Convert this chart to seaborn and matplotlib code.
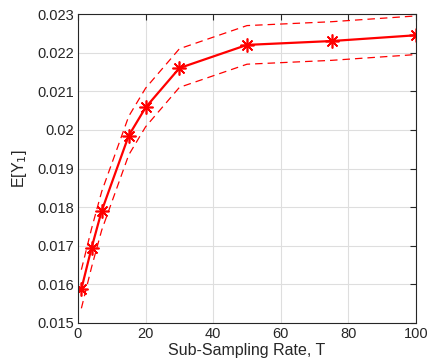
import matplotlib
matplotlib.use("Agg")
import matplotlib.pyplot as plt
import seaborn as sns
import pandas as pd

# Sub-sampling rate and the estimated expectation with its confidence band
T = [1, 4, 7, 15, 20, 30, 50, 75, 100]
mean_y1 = [0.01588, 0.01694, 0.01790, 0.01985, 0.02058, 0.02160, 0.02220, 0.02230, 0.02245]
upper_y1 = [0.01638, 0.01744, 0.01840, 0.02035, 0.02108, 0.02210, 0.02270, 0.02280, 0.02295]
lower_y1 = [0.01538, 0.01644, 0.01740, 0.01935, 0.02008, 0.02110, 0.02170, 0.02180, 0.02195]

df = pd.DataFrame({"T": T, "mean": mean_y1, "upper": upper_y1, "lower": lower_y1})

sns.set_theme(style="white")
plt.rcParams["font.family"] = ["Liberation Sans", "DejaVu Sans"]

fig = plt.figure(figsize=(4.28, 3.58), dpi=100)
ax = fig.add_axes([78 / 428, 1 - 323 / 358, (416 - 78) / 428, (323 - 14) / 358])

sns.lineplot(data=df, x="T", y="upper", ax=ax, color="red", lw=0.9, linestyle=(0, (6, 4)))
sns.lineplot(data=df, x="T", y="lower", ax=ax, color="red", lw=0.9, linestyle=(0, (6, 4)))
sns.lineplot(data=df, x="T", y="mean", ax=ax, color="red", lw=1.6,
             marker="*", markersize=10, markeredgewidth=1.2, markeredgecolor="red")
# eight-armed asterisk marker
ax.lines[-1].set_marker((8, 2, 0))

ax.set_xlim(0, 100)
ax.set_ylim(0.015, 0.023)
ax.set_xticks([0, 20, 40, 60, 80, 100])
ax.set_yticks([0.015, 0.016, 0.017, 0.018, 0.019, 0.02, 0.021, 0.022, 0.023])
ax.set_yticklabels(["0.015", "0.016", "0.017", "0.018", "0.019", "0.02", "0.021", "0.022", "0.023"])

ax.grid(True, color="#dedede", lw=0.8)
ax.set_axisbelow(True)
for s in ax.spines.values():
    s.set_color("#262626")
    s.set_linewidth(0.8)
ax.tick_params(direction="in", length=4, width=0.8, color="#262626",
               top=True, right=True, labelsize=10.5, labelcolor="#262626", pad=3)

ax.set_xlabel("Sub-Sampling Rate, T", fontsize=11.5, color="#262626", labelpad=1)
ax.set_ylabel("E[Y$_1$]", fontsize=11.5, color="#262626", labelpad=6)

fig.savefig("out.png", dpi=100)
